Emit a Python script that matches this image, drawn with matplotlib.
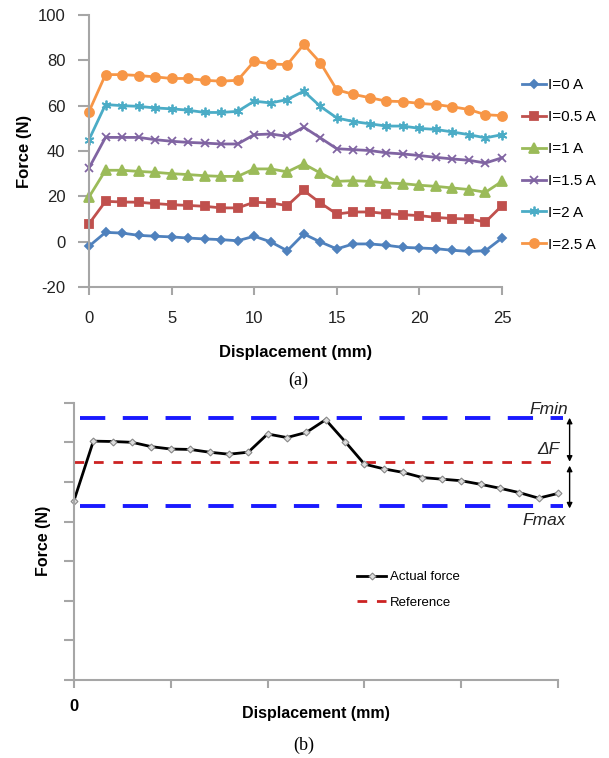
import numpy as np
import matplotlib
matplotlib.use("Agg")
import matplotlib.pyplot as plt

plt.rcParams['font.family'] = ['Liberation Sans', 'DejaVu Sans']
plt.rcParams['axes.unicode_minus'] = False

# (a) force vs displacement for several currents
disp = list(range(26))
labels = ["I=0 A", "I=0.5 A", "I=1 A", "I=1.5 A", "I=2 A", "I=2.5 A"]
f_0 = [-2.0, 4.1, 3.8, 2.8, 2.4, 2.1, 1.6, 1.2, 0.9, 0.4, 2.4, -0.1, -4.0,
       3.4, -0.1, -3.2, -1.0, -1.0, -1.6, -2.5, -2.8, -3.1, -3.8, -4.3, -4.0, 1.6]
f_05 = [7.9, 17.8, 17.5, 17.4, 16.8, 16.3, 16.0, 15.6, 14.9, 14.9, 17.4, 17.1, 15.9,
        22.6, 17.1, 12.2, 13.1, 13.1, 12.4, 11.9, 11.5, 10.7, 10.2, 10.0, 8.7, 15.9]
f_1 = [19.7, 31.5, 31.5, 31.0, 30.6, 30.0, 29.6, 29.1, 28.8, 28.8, 32.1, 32.1, 30.8,
       34.3, 30.3, 26.6, 26.9, 26.6, 25.9, 25.6, 24.9, 24.4, 23.7, 23.0, 21.8, 26.6]
f_15 = [32.5, 46.0, 46.0, 46.0, 45.0, 44.3, 43.8, 43.5, 43.1, 43.1, 47.2, 47.5, 46.5,
        50.5, 45.8, 41.0, 40.6, 40.2, 39.2, 38.7, 38.0, 37.2, 36.5, 35.9, 34.7, 37.0]
f_2 = [45.0, 60.5, 60.0, 59.7, 59.0, 58.6, 58.0, 57.0, 57.0, 57.5, 62.0, 61.2, 62.7,
       66.4, 59.7, 54.6, 53.0, 52.0, 51.0, 51.0, 50.0, 49.5, 48.4, 47.2, 45.8, 47.2]
f_25 = [57.4, 73.7, 73.7, 73.3, 72.7, 72.0, 72.0, 71.2, 70.8, 71.2, 79.6, 78.4, 78.1,
        87.0, 79.0, 67.0, 65.0, 63.5, 62.0, 61.8, 61.0, 60.5, 59.5, 58.3, 56.0, 55.6]

# (b) schematic of actual force vs reference
act_force = [4.53, 6.03, 6.02, 6.0, 5.89, 5.83, 5.82, 5.75, 5.70, 5.75, 6.21, 6.12, 6.25,
             6.57, 6.02, 5.45, 5.33, 5.24, 5.11, 5.07, 5.03, 4.94, 4.84, 4.73, 4.59, 4.71]
f_min_level = 6.62
ref_level = 5.51
f_max_level = 4.38

series = [f_0, f_05, f_1, f_15, f_2, f_25]
colors = ['#4F81BD', '#C0504D', '#9BBB59', '#8064A2', '#4BACC6', '#F79646']
markers = ['D', 's', '^', 'x', (6, 2, 0), 'o']
msizes = [4.5, 6, 6.5, 6, 7, 6.5]

fig = plt.figure(figsize=(6.09, 7.58), dpi=100)
W, H = 609, 758

ax1 = fig.add_axes([89 / W, 1 - 287 / H, (502 - 89) / W, (287 - 15) / H])
for i in range(len(series)):
    ax1.plot(disp, series[i], color=colors[i], marker=markers[i], markersize=msizes[i],
             lw=2, mec=colors[i], mew=1.3, label=labels[i], clip_on=False)
ax1.set_xlim(0, 25)
ax1.set_ylim(-20, 100)
ax1.set_xticks([0, 5, 10, 15, 20, 25])
ax1.set_yticks(range(-20, 101, 20))
for s in ['top', 'right']:
    ax1.spines[s].set_visible(False)
for s in ['left', 'bottom']:
    ax1.spines[s].set_color('#a6a6a6')
    ax1.spines[s].set_linewidth(1.5)
ax1.tick_params(axis='x', direction='out', length=6, width=1.5, color='#a6a6a6',
                pad=11, labelsize=12, labelcolor='#222222')
ax1.tick_params(axis='y', direction='out', length=8, width=1.5, color='#a6a6a6',
                pad=9, labelsize=12, labelcolor='#222222')
ax1.set_xlabel('Displacement (mm)', fontsize=12, fontweight='bold', labelpad=14)
ax1.set_ylabel('Force (N)', fontsize=12, fontweight='bold', labelpad=4)
fig.legend(*ax1.get_legend_handles_labels(), loc='center left',
           bbox_to_anchor=(522 / W, 1 - 165 / H), frameon=False, fontsize=11,
           handlelength=1.6, handletextpad=0.1, labelspacing=1.17,
           borderpad=0, borderaxespad=0)
fig.text(298 / W, 1 - 380 / H, '(a)', family='Liberation Serif', fontsize=13,
         ha='center', va='center')

# (b)
ax2 = fig.add_axes([74 / W, 1 - 680 / H, (558 - 74) / W, (680 - 402.7) / H])
ax2.axhline(f_min_level, xmin=0.012, xmax=1.01, color='#1a1aff', lw=2.8,
            dashes=(6.5, 4.5), clip_on=False)
ax2.axhline(f_max_level, xmin=0.012, xmax=1.01, color='#1a1aff', lw=2.8,
            dashes=(6.5, 4.5), clip_on=False)
ax2.plot(disp, [ref_level] * len(disp), color='#cc2222', lw=2, dashes=(3.5, 3.5),
         label='Reference', clip_on=False)
ax2.plot(disp, act_force, color='black', lw=2, marker='D', markersize=3.5,
         mfc='#dddddd', mec='#888888', mew=0.8, label='Actual force', clip_on=False)
ax2.set_xlim(0, 25)
ax2.set_ylim(0, 7)
ax2.set_xticks([0, 5, 10, 15, 20, 25])
ax2.set_xticklabels(['0', '', '', '', '', ''])
ax2.set_yticks(range(0, 8))
ax2.set_yticklabels([])
for s in ['top', 'right']:
    ax2.spines[s].set_visible(False)
for s in ['left', 'bottom']:
    ax2.spines[s].set_color('#a6a6a6')
    ax2.spines[s].set_linewidth(1.5)
ax2.tick_params(axis='x', direction='out', length=6, width=1.5, color='#a6a6a6',
                pad=8, labelsize=12)
ax2.tick_params(axis='y', direction='out', length=7, width=1.5, color='#a6a6a6')
for t in ax2.get_xticklabels():
    t.set_fontweight('bold')
ax2.set_xlabel('Displacement (mm)', fontsize=11.5, fontweight='bold', labelpad=-6)
ax2.set_ylabel('Force (N)', fontsize=11.5, fontweight='bold', labelpad=6)

ax2.annotate('', xy=(25.6, f_min_level), xytext=(25.6, ref_level),
             arrowprops=dict(arrowstyle='<|-|>', color='black', lw=1,
                             shrinkA=0, shrinkB=0, mutation_scale=8),
             annotation_clip=False)
ax2.annotate('', xy=(25.6, ref_level - 0.1), xytext=(25.6, f_max_level - 0.05),
             arrowprops=dict(arrowstyle='<|-|>', color='black', lw=1,
                             shrinkA=0, shrinkB=0, mutation_scale=8),
             annotation_clip=False)
ax2.text(24.5, 6.82, 'Fmin', fontsize=12.5, style='italic', ha='center', va='center',
         color='#222222', clip_on=False)
ax2.text(24.5, 5.83, 'ΔF', fontsize=12.5, style='italic', ha='center', va='center',
         color='#222222', clip_on=False)
ax2.text(24.3, 4.03, 'Fmax', fontsize=12.5, style='italic', ha='center', va='center',
         color='#222222', clip_on=False)

h, l = ax2.get_legend_handles_labels()
fig.legend([h[1], h[0]], [l[1], l[0]], loc='center left',
           bbox_to_anchor=(357 / W, 1 - 590 / H), frameon=False, fontsize=9.5,
           handlelength=2.2, handletextpad=0.3, labelspacing=1.0,
           borderpad=0, borderaxespad=0)
fig.text(304 / W, 1 - 745 / H, '(b)', family='Liberation Serif', fontsize=13,
         ha='center', va='center')

fig.savefig('out.png', dpi=100)
